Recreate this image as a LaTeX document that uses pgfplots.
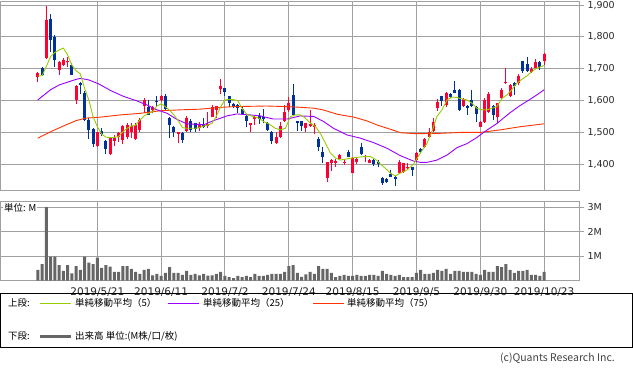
\documentclass[border=0pt]{standalone}
\usepackage{fontspec}
\setmainfont{DejaVu Sans}
\newfontfamily\jp{Noto Sans CJK JP}
\usepackage{pgfplots}
\usepackage{pgfplotstable}
\pgfplotsset{compat=1.18}
\definecolor{upc}{RGB}{255,0,51}
\definecolor{dnc}{RGB}{0,51,153}
\definecolor{ma5c}{RGB}{153,204,0}
\definecolor{ma25c}{RGB}{153,0,255}
\definecolor{ma75c}{RGB}{255,51,0}
\definecolor{gridc}{RGB}{160,160,160}
\definecolor{volc}{RGB}{102,102,102}

\pgfplotstableread{
i o h l c
0 1675 1691 1657 1686
2 1733 1898 1730 1854
5 1697 1723 1681 1720
6 1712 1733 1709 1728
7 1720 1738 1707 1725
9 1602 1649 1590 1646
14 1458 1502 1455 1500
17 1432 1487 1429 1483
18 1474 1492 1457 1484
19 1485 1502 1471 1499
20 1476 1523 1464 1520
21 1485 1529 1479 1523
22 1502 1530 1483 1520
23 1479 1529 1476 1523
24 1508 1545 1502 1539
25 1583 1607 1560 1602
27 1569 1583 1560 1581
29 1602 1618 1595 1613
33 1494 1501 1466 1501
35 1506 1552 1502 1545
38 1513 1534 1506 1527
40 1519 1565 1515 1526
41 1548 1586 1548 1581
42 1571 1583 1545 1583
43 1636 1668 1621 1646
50 1523 1531 1502 1529
51 1541 1555 1523 1550
56 1468 1502 1464 1487
57 1485 1534 1482 1520
58 1537 1586 1534 1565
59 1571 1611 1565 1592
63 1513 1531 1502 1531
64 1520 1571 1518 1527
65 1518 1531 1495 1523
68 1356 1408 1345 1406
69 1405 1416 1380 1413
70 1405 1416 1392 1411
71 1416 1432 1416 1429
72 1405 1416 1397 1408
74 1373 1424 1371 1419
75 1408 1424 1401 1418
77 1422 1429 1408 1427
78 1403 1416 1403 1413
85 1373 1413 1371 1408
86 1377 1405 1374 1403
87 1387 1403 1382 1392
89 1413 1440 1411 1436
91 1453 1482 1450 1479
92 1487 1513 1482 1502
93 1506 1545 1502 1534
94 1576 1604 1568 1597
96 1587 1628 1579 1623
100 1583 1607 1581 1605
104 1518 1537 1518 1534
105 1534 1607 1529 1602
106 1565 1628 1560 1621
108 1548 1594 1529 1592
109 1607 1639 1604 1632
110 1655 1704 1652 1660
111 1613 1652 1611 1649
113 1655 1684 1649 1678
116 1691 1707 1686 1700
117 1702 1730 1701 1720
119 1726 1749 1712 1747
}\upt

\pgfplotstableread{
i o h l c
1 1702 1707 1678 1681
3 1857 1873 1754 1791
4 1801 1807 1707 1728
8 1712 1718 1681 1681
10 1655 1660 1621 1649
11 1623 1630 1535 1539
12 1539 1545 1479 1508
13 1511 1514 1455 1464
15 1505 1514 1488 1495
16 1474 1476 1432 1448
26 1579 1602 1555 1555
28 1600 1613 1581 1595
30 1613 1621 1571 1573
31 1545 1548 1482 1524
32 1518 1520 1485 1502
34 1499 1501 1468 1476
36 1537 1541 1502 1508
37 1529 1531 1502 1510
39 1523 1545 1513 1516
44 1639 1639 1613 1628
45 1615 1615 1579 1594
46 1590 1592 1576 1579
47 1587 1590 1562 1576
48 1573 1579 1555 1558
49 1552 1555 1518 1537
52 1552 1560 1527 1541
53 1548 1573 1529 1541
54 1529 1534 1506 1508
55 1502 1506 1464 1474
60 1618 1652 1555 1555
61 1537 1537 1506 1531
62 1537 1537 1506 1520
66 1479 1487 1443 1455
67 1440 1455 1405 1422
73 1440 1445 1422 1424
76 1453 1466 1429 1432
79 1413 1416 1395 1401
80 1408 1413 1390 1401
81 1358 1361 1335 1340
82 1354 1356 1342 1345
83 1369 1382 1359 1361
84 1359 1363 1333 1353
88 1392 1392 1363 1382
90 1448 1450 1435 1438
95 1615 1615 1583 1600
97 1621 1625 1607 1611
98 1634 1662 1623 1625
99 1634 1636 1568 1571
101 1583 1586 1555 1576
102 1602 1634 1581 1583
103 1579 1583 1534 1558
107 1583 1586 1539 1555
112 1655 1657 1618 1646
114 1723 1726 1688 1694
115 1715 1738 1691 1694
118 1720 1726 1697 1705
}\dnt

\pgfplotstableread{
i v
0 0.43
1 0.67
2 2.99
3 0.97
4 0.97
5 0.63
6 0.39
7 0.63
8 0.29
9 0.59
10 0.43
11 0.97
12 0.73
13 0.67
14 0.93
15 0.52
16 0.63
17 0.57
18 0.35
19 0.35
20 0.59
21 0.59
22 0.47
23 0.35
24 0.27
25 0.43
26 0.47
27 0.21
28 0.27
29 0.19
30 0.31
31 0.55
32 0.31
33 0.31
34 0.23
35 0.39
36 0.23
37 0.27
38 0.21
39 0.27
40 0.20
41 0.21
42 0.27
43 0.35
44 0.19
45 0.14
46 0.10
47 0.19
48 0.14
49 0.19
50 0.14
51 0.27
52 0.19
53 0.19
54 0.23
55 0.27
56 0.27
57 0.27
58 0.35
59 0.59
60 0.63
61 0.31
62 0.15
63 0.25
64 0.35
65 0.27
66 0.59
67 0.47
68 0.47
69 0.31
70 0.14
71 0.19
72 0.23
73 0.19
74 0.19
75 0.23
76 0.19
77 0.19
78 0.23
79 0.23
80 0.19
81 0.39
82 0.27
83 0.23
84 0.19
85 0.23
86 0.14
87 0.14
88 0.14
89 0.31
90 0.43
91 0.27
92 0.27
93 0.31
94 0.43
95 0.39
96 0.47
97 0.27
98 0.39
99 0.39
100 0.35
101 0.35
102 0.35
103 0.27
104 0.23
105 0.43
106 0.35
107 0.35
108 0.59
109 0.55
110 0.67
111 0.43
112 0.31
113 0.39
114 0.39
115 0.43
116 0.23
117 0.23
118 0.19
119 0.35
}\volt

\pgfplotsset{
  candle/.style 2 args={only marks, mark=*, mark size=0pt, mark options={draw=none, fill=none}, forget plot,
    error bars/.cd, y dir=plus, y explicit, error mark=none,
    error bar style={line width=#1, color=#2}},
}

\begin{document}
\begin{tikzpicture}[x=1pt,y=1pt]
\path[use as bounding box] (0,0) rectangle (633,368);

% ---------- price panel ----------
\begin{axis}[
  at={(0.5pt,178pt)}, anchor=south west, scale only axis,
  width=578.5pt, height=189pt,
  xmin=-8.76, xmax=127.2, ymin=1319, ymax=1913,
  axis line style={gridc, line width=1pt},
  xtick={14,29,...,119}, xticklabels={}, xtick style={draw=none},
  ytick={1400,1500,...,1900},
  yticklabels={{1,400},{1,500},{1,600},{1,700},{1,800},{1,900}},
  ytick pos=right, yticklabel pos=right, tick align=outside,
  ytick style={gridc, line width=1pt}, major tick length=5pt,
  grid=major, major grid style={gridc, line width=1pt},
  yticklabel style={font=\fontsize{9.5}{10}\selectfont, anchor=west, text=black!85},
]
% wicks
\addplot[candle={1pt}{upc}]
  table[x=i, y=l, y error expr={\thisrow{h}-\thisrow{l}}] {\upt};
\addplot[candle={1pt}{dnc}]
  table[x=i, y=l, y error expr={\thisrow{h}-\thisrow{l}}] {\dnt};
% bodies
\addplot[candle={3pt}{upc}]
  table[x=i, y expr={min(\thisrow{o},\thisrow{c})}, y error expr={max(abs(\thisrow{c}-\thisrow{o}),3)}] {\upt};
\addplot[candle={3pt}{dnc}]
  table[x=i, y expr={min(\thisrow{o},\thisrow{c})}, y error expr={max(abs(\thisrow{c}-\thisrow{o}),3)}] {\dnt};
% MA75
\addplot[ma75c, line width=0.9pt, mark=none] coordinates {
(0,1482)(3,1502)(6,1520)(9,1537)(11.3,1545)(14.7,1548)(19.4,1555)(24.1,1560)(28.8,1568)(33.5,1571)(38.2,1573)(42.1,1578)(46,1581)(53.8,1583)(58.7,1581)(61.7,1579)(64.9,1576)(67,1571)(70.4,1557)(74.3,1548)(77.4,1536)(79.8,1523)(83.3,1508)(85.3,1499)(88.8,1496)(94.3,1497)(99.6,1500)(104,1500)(108.7,1508)(113.4,1518)(119,1527)
};
% MA25
\addplot[ma25c, line width=0.9pt, mark=none] coordinates {
(0,1602)(3,1634)(5,1649)(8.6,1665)(10,1670)(12,1665)(14.4,1652)(17.2,1631)(20.2,1613)(23.3,1599)(25.7,1586)(28,1571)(30.4,1560)(32.7,1541)(35,1527)(38.2,1525)(39,1524)(41.3,1537)(44.5,1552)(46.8,1558)(49.9,1555)(52.3,1552)(53.8,1547)(55.4,1542)(58.6,1542)(61.7,1552)(64.9,1550)(67.2,1534)(69.5,1513)(72.7,1492)(75.8,1482)(78.9,1468)(82.1,1450)(85.2,1427)(88.3,1410)(89.9,1406)(91.5,1406)(93.8,1413)(96.2,1429)(98.5,1452)(100.9,1465)(103.2,1484)(105,1502)(108,1529)(111,1562)(113.3,1584)(115.7,1604)(117.3,1618)(119,1634)
};
% MA5
\addplot[ma5c, line width=0.9pt, mark=none] coordinates {
(0,1678)(1,1678)(2,1707)(3,1738)(4,1751)(5,1759)(6,1765)(7,1744)(8,1712)(9,1694)(10,1684)(11,1639)(12,1602)(13,1550)(14,1518)(15,1495)(16,1485)(17,1484)(18,1484)(19,1487)(20,1502)(21,1513)(22,1520)(23,1523)(24,1539)(25,1552)(26,1560)(27,1565)(28,1583)(29,1590)(30,1581)(31,1569)(32,1555)(33,1537)(34,1515)(35,1513)(36,1513)(37,1513)(38,1515)(39,1520)(40,1523)(41,1529)(42,1552)(43,1581)(44,1602)(45,1604)(46,1603)(47,1600)(48,1576)(49.2,1555)(50.7,1550)(51.9,1545)(53.1,1534)(54.3,1527)(55.8,1513)(57,1508)(58.2,1513)(59.4,1550)(60.5,1555)(61.7,1555)(62.9,1545)(64.1,1529)(65.3,1518)(66.4,1497)(67.6,1466)(68.8,1435)(70,1419)(71.1,1413)(73.5,1419)(76.6,1424)(78.2,1424)(79.3,1416)(80.5,1401)(81.7,1387)(82.9,1372)(84,1363)(85.2,1372)(86.8,1382)(88.3,1400)(89.9,1435)(91.5,1466)(92.6,1502)(93.8,1550)(95,1571)(96.2,1602)(97.3,1611)(98.5,1610)(99.7,1605)(100.9,1602)(102,1592)(103.2,1576)(104.4,1571)(105.6,1571)(106.7,1576)(107.9,1581)(109.1,1607)(110.3,1618)(111.4,1634)(112.6,1655)(113.8,1667)(115,1678)(116.1,1691)(117.3,1702)(118.7,1709)(119,1710)
};
\end{axis}

% ---------- volume panel ----------
\begin{axis}[
  at={(0.5pt,87.5pt)}, anchor=south west, scale only axis,
  width=578.5pt, height=79.5pt,
  xmin=-8.76, xmax=127.2, ymin=0, ymax=3.245,
  axis line style={gridc, line width=1pt},
  xtick={14,29,...,119},
  xticklabels={2019/5/21,2019/6/11,2019/7/2,2019/7/24,2019/8/15,2019/9/5,2019/9/30,2019/10/23},
  xtick style={draw=none},
  xticklabel style={font=\fontsize{10.5}{11}\selectfont, text=black!85, yshift=1pt},
  ytick={1,2,3}, yticklabels={1M,2M,3M},
  ytick pos=right, yticklabel pos=right, tick align=outside,
  ytick style={gridc, line width=1pt}, major tick length=5pt,
  grid=major, major grid style={gridc, line width=1pt},
  yticklabel style={font=\fontsize{9.5}{10}\selectfont, anchor=west, text=black!85},
]
\addplot[ybar, bar width=3pt, bar shift=0pt, fill=volc, draw=none] table[x=i, y=v] {\volt};
\end{axis}

\node[anchor=west, inner sep=1pt, fill=white, font=\jp\fontsize{9.5}{10}\selectfont] at (3,160) {単位: M};

% ---------- legend ----------
\draw[black, line width=1pt] (0.5,75) rectangle (632.5,21);
\begin{scope}[every node/.style={anchor=west, inner sep=0pt, font=\jp\fontsize{9.5}{10}\selectfont}]
\node at (8,65) {上段:};
\draw[ma5c, line width=1pt] (40,65) -- (71,65);
\node at (75,65) {単純移動平均（5）};
\draw[ma25c, line width=1pt] (168,65) -- (199,65);
\node at (203,65) {単純移動平均（25）};
\draw[ma75c, line width=1pt] (313,65) -- (344,65);
\node at (347,65) {単純移動平均（75）};
\node at (8,32) {下段:};
\draw[volc, line width=3pt] (40,32) -- (71,32);
\node at (75,32) {出来高 単位:(M株/口/枚)};
\end{scope}
\node[anchor=east, inner sep=0pt, text=black!75, font=\jp\fontsize{10.5}{11}\selectfont] at (615,10) {(c)Quants Research Inc.};
\end{tikzpicture}
\end{document}
